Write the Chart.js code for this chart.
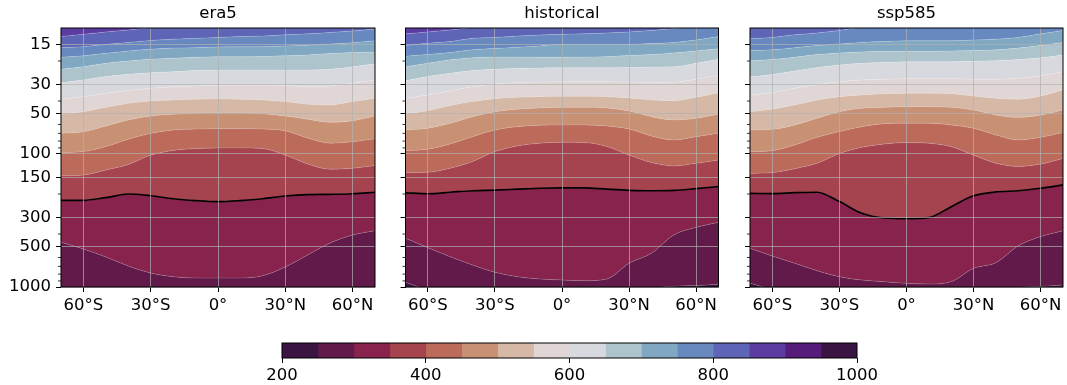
<!DOCTYPE html>
<html>
<head>
<meta charset="utf-8">
<script src="https://cdn.jsdelivr.net/npm/chart.js@4.4.1/dist/chart.umd.min.js"></script>
<style>
  body { margin: 0; background: #fff; }
  #wrap { position: relative; width: 1067px; height: 385px; }
  canvas { position: absolute; }
</style>
</head>
<body>
<div id="wrap">
  <canvas id="p0" width="390" height="330" style="left:0px;top:0px"></canvas>
  <canvas id="p1" width="345" height="330" style="left:390px;top:0px"></canvas>
  <canvas id="p2" width="332" height="330" style="left:735px;top:0px"></canvas>
  <canvas id="cbar" width="650" height="55" style="left:250px;top:330px"></canvas>
</div>
<script>
Chart.defaults.font.family = "'DejaVu Sans', sans-serif";
Chart.defaults.font.size = 16.5;
Chart.defaults.color = '#000';

// latitude of each sample, contour levels drawn as pressure curves (hPa)
const lats = [-70, -60, -50, -40, -30, -20, -10, 0, 10, 20, 30, 40, 50, 60, 70];
const levels = [250, 300, 350, 400, 450, 500, 550, 600, 650, 700, 750, 800, 850];
const colorBounds = [200, 250, 300, 350, 400, 450, 500, 550, 600, 650, 700, 750, 800, 850, 900, 950, 1000];
const bandColors = ['#3b1541', '#611a4a', '#87234c', '#a5444f', '#bc6a5a', '#c99174', '#d5b8a6', '#e1d6d6',
                    '#d8d9df', '#adc4cc', '#80a8c3', '#6889c0', '#5e64b6', '#5d3ca2', '#561c7a', '#3a1443'];
const yMajor = [15, 30, 50, 100, 150, 300, 500, 1000];
const yMinor = [20, 40, 60, 70, 80, 90, 200, 400, 600, 700, 800, 900];
const xTicks = [-60, -30, 0, 30, 60];
const cbTicks = [200, 400, 600, 800, 1000];

// era5
const era5_250 = [1100, 1100, 1100, 1100, 1100, 1100, 1100, 1100, 1100, 1100, 1100, 1100, 1100, 1100, 1100];
const era5_300 = [461, 518, 595, 695, 785, 837, 856, 856, 856, 822, 707, 574, 467, 406, 377];
const era5_350 = [223, 223, 213, 200, 206, 217, 224, 228, 224, 217, 207, 202, 201, 199, 194];
const era5_400 = [146, 144, 132, 120, 102, 94, 91, 90, 90, 91, 102, 119, 130, 128, 122];
const era5_450 = [98, 96, 88, 77.5, 70, 66, 65, 64.5, 64.5, 65, 67, 76, 83, 81, 77];
const era5_500 = [70, 68, 61.6, 55.5, 51.8, 50.3, 49.4, 49.2, 49.2, 49.8, 51.8, 54.8, 57.8, 56.2, 51.8];
const era5_550 = [50.3, 48.1, 44.6, 41.6, 40.0, 39.3, 38.8, 38.6, 38.8, 39.3, 40.4, 42.3, 42.8, 40.4, 38.1];
const era5_600 = [38.8, 37.1, 35.0, 33.4, 32.1, 31.3, 30.8, 30.4, 30.4, 30.4, 30.6, 31.2, 30.8, 29.4, 27.8];
const era5_650 = [29.1, 27.8, 26.2, 25.2, 24.5, 24.1, 23.6, 23.4, 23.4, 23.4, 23.4, 23.4, 23.1, 22.1, 21.0];
const era5_700 = [23.1, 22.1, 20.8, 20.0, 19.4, 19.1, 18.75, 18.6, 18.6, 18.5, 18.3, 18.0, 17.6, 17.3, 17.1];
const era5_750 = [18.75, 18.3, 17.5, 16.8, 16.3, 16.0, 15.9, 15.7, 15.65, 15.6, 15.4, 15.2, 14.9, 14.6, 14.1];
const era5_800 = [15.9, 15.6, 15.0, 14.5, 14.0, 13.7, 13.5, 13.3, 13.1, 13.0, 12.7, 12.5, 12.2, 11.9, 11.5];
const era5_850 = [13.1, 12.6, 12.1, 11.7, 11.25, 10.9, 10.7, 10.6, 10.5, 10.5, 10.5, 10.5, 10.5, 10.5, 10.5];

// historical
const hist_250 = [922, 1050, 1100, 1100, 1100, 1100, 1100, 1100, 1100, 1100, 1100, 1020, 988, 975, 954];
const hist_300 = [430, 506, 592, 683, 775, 837, 871, 886, 897, 871, 663, 558, 406, 356, 326];
const hist_350 = [196, 199, 194, 189, 187, 184, 181, 180, 180, 184, 187.5, 189, 188, 182, 176];
const hist_400 = [138, 137, 128, 114, 96, 87, 83, 81.6, 82, 88, 102, 116, 123, 117.5, 111];
const hist_450 = [94.4, 92.2, 84.1, 74.1, 66, 62.3, 60.8, 60.5, 60.5, 61.6, 64.9, 73.2, 78.5, 74.1, 69.8];
const hist_500 = [66, 64.1, 58.8, 52.4, 48.1, 46.1, 45.1, 44.6, 44.6, 45.1, 47.5, 52.4, 55.5, 53.9, 50];
const hist_550 = [50.3, 47.3, 43.3, 40.4, 38.4, 37.5, 37.1, 36.9, 36.9, 37.1, 37.9, 39.3, 39.8, 37.5, 34.6];
const hist_600 = [38.1, 36, 33.6, 31.2, 29.8, 29.1, 28.8, 28.6, 28.6, 28.6, 28.8, 29.1, 28.9, 27.4, 25.5];
const hist_650 = [28.1, 26.2, 24.7, 23.6, 23.1, 22.8, 22.6, 22.5, 22.5, 22.5, 22.4, 22.2, 22.1, 20.8, 19.4];
const hist_700 = [22.1, 20.8, 19.6, 18.9, 18.7, 18.7, 18.75, 18.75, 18.7, 18.55, 18.2, 17.9, 17.4, 16.8, 16.2];
const hist_750 = [18.4, 17.9, 17.3, 16.5, 16.1, 15.75, 15.4, 15.0, 15.0, 15.0, 15.0, 14.8, 14.5, 13.9, 13.1];
const hist_800 = [15.3, 14.7, 14.3, 13.5, 13.3, 13.0, 12.75, 12.6, 12.5, 12.3, 12.1, 11.8, 11.4, 11.0, 10.7];
const hist_850 = [12.5, 12.1, 11.7, 11.2, 10.9, 10.7, 10.6, 10.5, 10.5, 10.5, 10.5, 10.5, 10.5, 10.5, 10.5];

// ssp585
const ssp_250 = [938, 1040, 1100, 1100, 1100, 1100, 1100, 1100, 1100, 1100, 1100, 1100, 1010, 990, 966];
const ssp_300 = [512, 585, 663, 754, 837, 886, 912, 938, 949, 912, 724, 657, 490, 418, 377];
const ssp_350 = [198, 198.5, 195.5, 194, 228, 279, 303, 307, 301, 249, 206, 193, 189, 181, 171];
const ssp_400 = [140, 138, 129, 117.5, 99.3, 89.2, 84.1, 82.1, 83.1, 88.1, 102, 117.5, 124, 119, 108];
const ssp_450 = [96.1, 94.4, 85.6, 74.9, 67.9, 62.3, 59.2, 58.8, 58.8, 60.5, 64.1, 72, 78.5, 74.9, 69];
const ssp_500 = [66, 65.3, 60.5, 53.9, 48.1, 45.4, 44.6, 44.1, 44.1, 44.6, 46.7, 50.9, 53, 50.9, 46.7];
const ssp_550 = [48.1, 46.1, 42.8, 39.3, 37.1, 36, 35.3, 35.0, 35.0, 35.3, 36.7, 38.1, 38.8, 36.7, 33];
const ssp_600 = [36, 34.6, 32.1, 30, 28.6, 27.8, 27.4, 27.2, 27.2, 27.2, 27.4, 27.4, 27.0, 25.8, 24.1];
const ssp_650 = [26.3, 25.3, 23.8, 22.4, 21.4, 20.8, 20.5, 20.3, 20.3, 20.3, 20.1, 19.9, 19.5, 18.9, 18.0];
const ssp_700 = [19.9, 19.5, 18.75, 17.9, 17.4, 17.1, 16.9, 16.9, 16.9, 16.8, 16.7, 16.5, 16.0, 15.3, 14.5];
const ssp_750 = [16.7, 16.5, 15.9, 15.3, 14.9, 14.5, 14.3, 14.1, 14.1, 14.1, 13.9, 13.7, 13.3, 12.5, 11.8];
const ssp_800 = [13.6, 13.3, 12.7, 12.3, 11.8, 11.1, 10.8, 10.6, 10.5, 10.5, 10.5, 10.5, 10.5, 10.5, 10.5];
const ssp_850 = [10.2, 10.2, 10.2, 10.2, 10.2, 10.2, 10.2, 10.2, 10.2, 10.2, 10.2, 10.2, 10.2, 10.2, 10.2];

const gridColor = 'rgba(176,176,176,0.7)';

// box round the axes, minor log ticks, panel title
const frame = {
  id: 'frame',
  afterDraw(chart, args, opts) {
    const ctx = chart.ctx, a = chart.chartArea;
    ctx.save();
    if (opts.minor) {
      const y = chart.scales.y;
      ctx.strokeStyle = '#000';
      ctx.lineWidth = 0.8;
      opts.minor.forEach(v => {
        const py = y.getPixelForValue(v);
        ctx.beginPath();
        ctx.moveTo(a.left - 3, py);
        ctx.lineTo(a.left, py);
        ctx.stroke();
      });
    }
    ctx.strokeStyle = '#000';
    ctx.lineWidth = 1;
    ctx.strokeRect(a.left, a.top, a.right - a.left, a.bottom - a.top);
    if (opts.title) {
      ctx.fillStyle = '#000';
      ctx.font = "16.5px 'DejaVu Sans', sans-serif";
      ctx.textAlign = 'center';
      ctx.textBaseline = 'alphabetic';
      ctx.fillText(opts.title, (a.left + a.right) / 2, 18);
    }
    ctx.restore();
  }
};

function latLabel(v) {
  if (v < 0) return (-v) + '°S';
  if (v > 0) return v + '°N';
  return '0°';
}

function pts(arr) {
  return lats.map((x, i) => ({x: x, y: arr[i]}));
}

function makePanel(id, title, curves, showLabels, yWidth, rightPad) {
  const ds = [];
  curves.forEach((c, j) => {
    ds.push({
      data: pts(c),
      fill: j == 0 ? 'start' : '-1',
      backgroundColor: bandColors[j],
      borderColor: 'rgba(255,255,255,0.28)',
      borderWidth: 0.6
    });
  });
  // band above the highest level
  ds.push({data: pts(curves[curves.length - 1]), fill: 'end', backgroundColor: bandColors[curves.length], borderWidth: 0});
  // black 350 line on top
  ds.push({data: pts(curves[levels.indexOf(350)]), fill: false, borderColor: '#000', borderWidth: 1.7, order: -1});

  new Chart(document.getElementById(id), {
    type: 'line',
    data: {datasets: ds},
    plugins: [frame],
    options: {
      responsive: false,
      animation: false,
      devicePixelRatio: 1,
      events: [],
      layout: {padding: {left: 0, right: rightPad, top: 28, bottom: 0}},
      elements: {point: {radius: 0}, line: {cubicInterpolationMode: 'monotone'}},
      plugins: {
        legend: {display: false},
        tooltip: {enabled: false},
        frame: {title: title, minor: yMinor}
      },
      scales: {
        x: {
          type: 'linear', min: -70, max: 70,
          afterBuildTicks: ax => { ax.ticks = xTicks.map(v => ({value: v})); },
          afterFit: ax => { ax.height = 43; },
          ticks: {callback: latLabel, maxRotation: 0, autoSkip: false, padding: 4},
          grid: {z: 1, color: gridColor, lineWidth: 1, tickColor: '#000', tickLength: 5, tickWidth: 1},
          border: {display: false}
        },
        y: {
          type: 'logarithmic', reverse: true, min: 11.3, max: 1000,
          afterBuildTicks: ax => { ax.ticks = yMajor.map(v => ({value: v})); },
          afterFit: ax => { ax.width = yWidth; },
          ticks: {callback: v => showLabels ? String(v) : '', autoSkip: false, padding: 5},
          grid: {z: 1, color: gridColor, lineWidth: 1, tickColor: '#000', tickLength: 5, tickWidth: 1},
          border: {display: false}
        }
      }
    }
  });
}

makePanel('p0', 'era5',
  [era5_250, era5_300, era5_350, era5_400, era5_450, era5_500, era5_550, era5_600, era5_650, era5_700, era5_750, era5_800, era5_850],
  true, 61, 15);
makePanel('p1', 'historical',
  [hist_250, hist_300, hist_350, hist_400, hist_450, hist_500, hist_550, hist_600, hist_650, hist_700, hist_750, hist_800, hist_850],
  false, 15.5, 16.5);
makePanel('p2', 'ssp585',
  [ssp_250, ssp_300, ssp_350, ssp_400, ssp_450, ssp_500, ssp_550, ssp_600, ssp_650, ssp_700, ssp_750, ssp_800, ssp_850],
  false, 15, 4);

// colorbar as floating horizontal bars
new Chart(document.getElementById('cbar'), {
  type: 'bar',
  data: {
    labels: ['cb'],
    datasets: bandColors.map((c, i) => ({
      data: [[colorBounds[i], colorBounds[i + 1]]],
      backgroundColor: c,
      borderWidth: 0,
      barPercentage: 1,
      categoryPercentage: 1,
      grouped: false
    }))
  },
  plugins: [frame],
  options: {
    indexAxis: 'y',
    responsive: false,
    animation: false,
    devicePixelRatio: 1,
    events: [],
    layout: {padding: {left: 32, right: 43, top: 13, bottom: 0}},
    plugins: {legend: {display: false}, tooltip: {enabled: false}, frame: {}},
    scales: {
      x: {
        type: 'linear', min: 200, max: 1000,
        afterBuildTicks: ax => { ax.ticks = cbTicks.map(v => ({value: v})); },
        afterFit: ax => { ax.height = 27; },
        ticks: {callback: v => String(v), autoSkip: false, maxRotation: 0, padding: 3},
        grid: {drawOnChartArea: false, tickColor: '#000', tickLength: 5, tickWidth: 1},
        border: {display: false}
      },
      y: {display: false}
    }
  }
});
</script>
</body>
</html>
